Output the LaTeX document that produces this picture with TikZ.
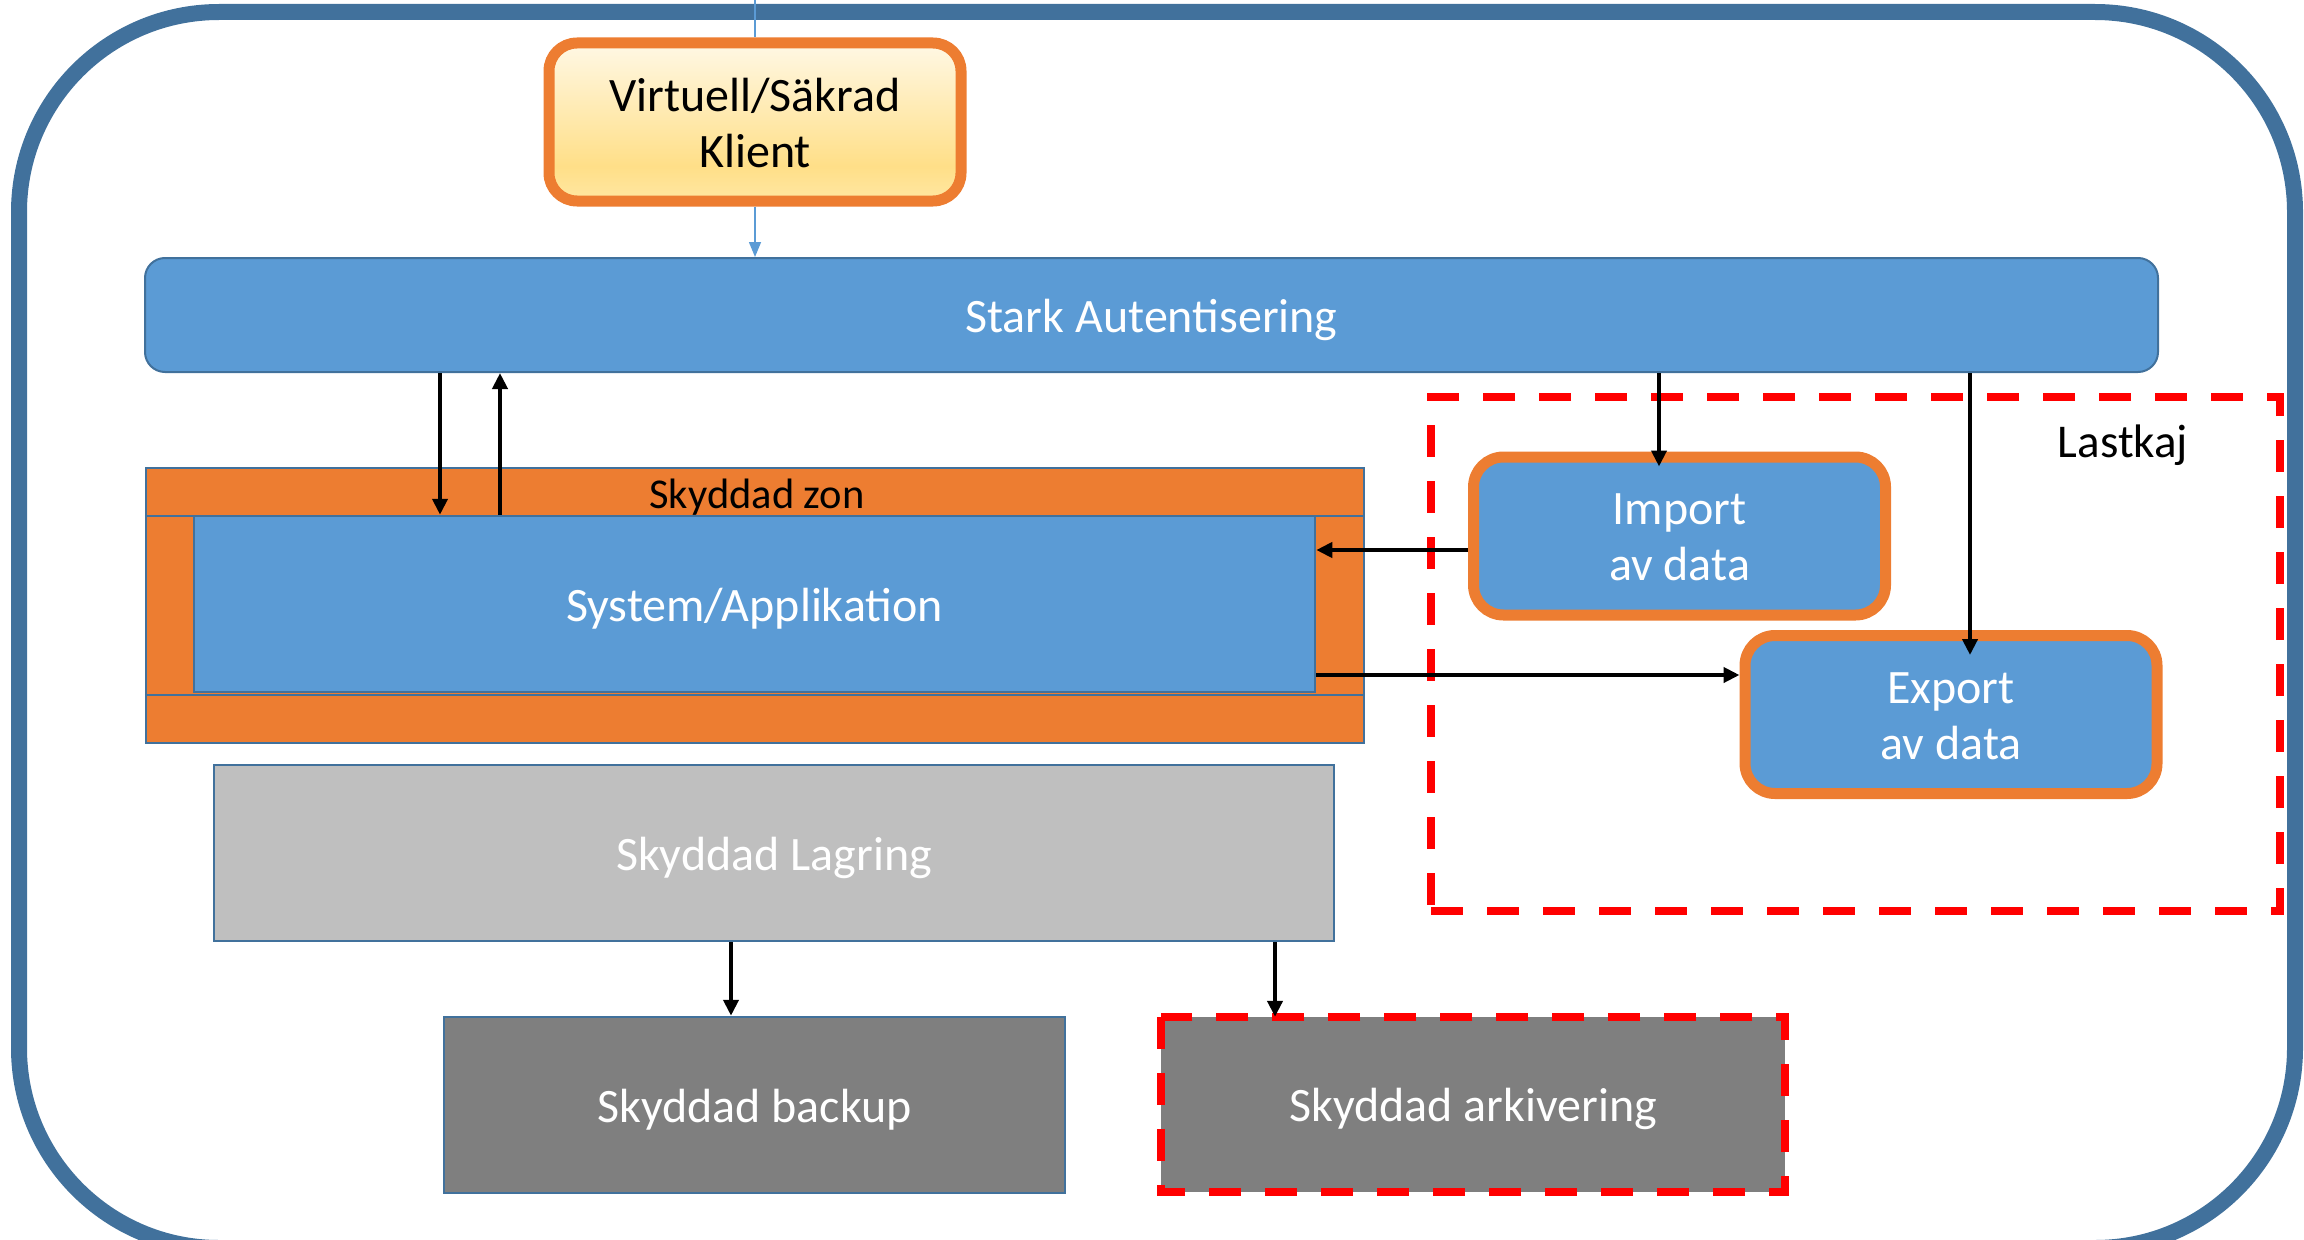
\documentclass[tikz,border=0pt]{standalone}
\usepackage{fontspec}
\setmainfont{Carlito}
\usetikzlibrary{arrows.meta,calc}
\definecolor{frameblue}{HTML}{41719C}
\definecolor{fillblue}{HTML}{5B9BD5}
\definecolor{zoneorange}{HTML}{ED7D31}
\definecolor{lgray}{HTML}{BFBFBF}
\definecolor{dgray}{HTML}{7F7F7F}
\definecolor{dashredc}{HTML}{FF0000}
\definecolor{ktop}{HTML}{FFF8E5}
\definecolor{kbot}{HTML}{FFDF88}
\definecolor{kbotb}{HTML}{FFE7A2}
\pgfdeclareverticalshading{klientshade}{100bp}{color(0bp)=(kbotb); color(25bp)=(kbotb); color(36bp)=(kbot); color(75bp)=(ktop); color(100bp)=(ktop)}
\begin{document}
\begin{tikzpicture}[x=1pt,y=-1pt,
  txt/.style={font=\fontsize{48}{56}\selectfont, align=center, inner sep=0pt},
  one/.style={txt, yshift=-4.5pt},
  two/.style={txt, yshift=-1.5pt},
  flatbox/.style={draw=frameblue, line width=2.5pt, inner sep=0pt},
  orangebox/.style={draw=zoneorange, line width=11pt, rounded corners=30pt, fill=fillblue, minimum width=412pt, minimum height=158pt, inner sep=0pt},
  dashred/.style={draw=dashredc, line width=8pt, dash pattern=on 32pt off 24pt},
  arr/.style={-{Triangle[length=16pt,width=15pt]}, line width=4.2pt, black},
  barr/.style={-{Triangle[length=15pt,width=12pt]}, line width=1.5pt, fillblue},
  bline/.style={line width=1.5pt, fillblue}]
\useasboundingbox (0,0) rectangle (2304,1239);
\clip (0,0) rectangle (2304,1239);
% outer frame
\draw[frameblue, line width=16pt, rounded corners=200pt] (19,12) rectangle (2295,1248);
% Lastkaj region
\node[dashred, minimum width=849pt, minimum height=514pt, inner sep=0pt] (lastkaj) at (1855.5,654) {};
\node[txt, font=\fontsize{47}{54}\selectfont] (lastkajlabel) at (2123,445) {Lastkaj};
% client
\node[draw=zoneorange, line width=11pt, rounded corners=28pt, shading=klientshade,
      minimum width=412pt, minimum height=158pt, inner sep=0pt,
      label={[two, text=black]center:{Virtuell/Säkrad\\Klient}}] (virtuell) at (755,122) {};
% strong auth
\node[flatbox, fill=fillblue, rounded corners=20pt, line width=2pt, minimum width=2013pt, minimum height=114pt,
      label={[one, text=white]center:Stark Autentisering}] (stark) at (1151.5,315) {};
% protected zone
\node[draw=frameblue, line width=2.5pt, fill=zoneorange, minimum width=1218pt, minimum height=275pt, inner sep=0pt] (zone) at (755,605.5) {};
\draw[frameblue, line width=2.5pt] (zone.west |- 0,516) -- (zone.east |- 0,516);
\draw[frameblue, line width=2.5pt] (zone.west |- 0,695) -- (zone.east |- 0,695);
\node[txt, font=\fontsize{42.5}{50}\selectfont] (zonelabel) at (757,497) {Skyddad zon};
\node[flatbox, fill=fillblue, minimum width=1121pt, minimum height=176pt,
      label={[one, text=white]center:System/Applikation}] (system) at (754.5,604) {};
% storage
\node[flatbox, fill=lgray, minimum width=1120pt, minimum height=176pt,
      label={[one, text=white]center:Skyddad Lagring}] (lagring) at (774,853) {};
\node[flatbox, fill=dgray, minimum width=621pt, minimum height=176pt,
      label={[one, text=white]center:Skyddad backup}] (backup) at (754.5,1105) {};
\node[fill=dgray, minimum width=624pt, minimum height=175pt, inner sep=0pt] (arkiv) at (1473,1104.5) {};
\draw[dashred] (arkiv.north west) rectangle (arkiv.south east);
\node[one, text=white] (arkivlabel) at (arkiv.center) {Skyddad arkivering};
% import / export
\node[orangebox, label={[two, text=white]center:{Import\\av data}}] (import) at (1679.5,536) {};
\node[orangebox, label={[two, text=white]center:{Export\\av data}}] (export) at (1951,714.5) {};
% connectors
\coordinate (ext) at (755,0);
\draw[bline] (ext) -- (virtuell.north);
\draw[barr] (virtuell.south) -- (virtuell.south |- stark.north);
\coordinate (cdown) at (440,0);
\coordinate (cup) at (500,0);
\draw[arr] (cdown |- stark.south) -- (cdown |- system.north);
\draw[arr] (cup |- system.north) -- (cup |- stark.south);
\coordinate (cimp) at (1659,0);
\coordinate (cexp) at (1970,0);
\draw[arr, shorten >=-15pt] (cimp |- stark.south) -- (cimp |- import.north);
\draw[arr, shorten >=-25pt] (cexp |- stark.south) -- (cexp |- export.north);
\coordinate (yimp) at ([yshift=-14pt]import.west);
\draw[arr] (yimp) -- (yimp -| system.east);
\coordinate (yexp) at ([yshift=-71pt]system.east);
\draw[arr] (yexp) -- (yexp -| export.west);
\coordinate (cbak) at (731,0);
\coordinate (cark) at (1275,0);
\draw[arr] (cbak |- lagring.south) -- (cbak |- backup.north);
\draw[arr] (cark |- lagring.south) -- (cark |- arkiv.north);
\end{tikzpicture}
\end{document}
